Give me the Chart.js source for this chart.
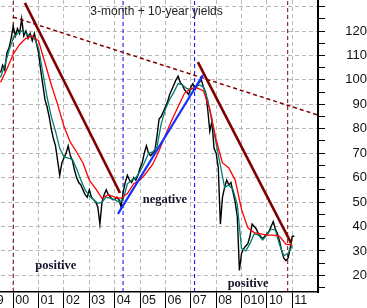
<!DOCTYPE html>
<html lang="en">
<head>
<meta charset="UTF-8">
<title>3-month + 10-year yields</title>
<script src="https://cdn.jsdelivr.net/npm/chart.js"></script>
<style>
    html, body {
        margin: 0;
        padding: 0;
        background: #fff;
        overflow: hidden;
    }
    body {
        width: 367px;
        height: 308px;
        position: relative;
    }
    /* canvas is a bit wider than the window so the cut "99" label shows on the left */
    .chart-box {
        position: absolute;
        left: -20px;
        top: 0;
        width: 387px;
        height: 308px;
    }
</style>
</head>
<body>
<div class="chart-box"><canvas id="yieldChart"></canvas></div>

<script>
    // ---- data ----
    const years = [1999, 2000, 2001, 2002, 2003, 2004, 2005, 2006, 2007, 2008, 2009, 2010, 2011];
    const yearLabels = ['99', '00', '01', '02', '03', '04', '05', '06', '07', '08', '010', '10', '11'];
    const yTicks = [15, 20, 25, 30, 35, 40, 45, 50, 55, 60, 65, 70, 75, 80, 85, 90, 95, 100, 105, 110, 115, 120, 125, 130];

    // monthly values from mid 1999
    const seriesStart = 1999.5;
    const closeStep = 1 / 12;
    const closes = [
        103, 106, 104, 111, 113, 117, 122, 118, 121, 119,
        125, 118, 120, 117, 119, 116, 119, 115, 111, 104,
        98, 92, 89, 85, 80, 76, 73, 67, 61, 66,
        68, 70, 73, 69, 67, 63, 60, 58, 57, 55,
        53, 52, 55, 52, 51, 50, 48, 41, 50, 53,
        55, 53, 52, 51, 51, 52, 51, 48, 54, 58,
        61, 59, 58, 60, 59, 61, 64, 66, 70, 73,
        70, 69, 70, 71, 77, 84, 85, 87, 89, 91,
        94, 96, 98, 100, 101.5, 99, 98, 96, 95, 94,
        97, 98.5, 96, 98, 99, 100, 97, 95, 88, 79,
        83, 72, 70, 64, 41, 52, 56, 59, 57, 58,
        54, 50, 44, 22, 29, 31, 32, 33, 36, 41,
        40, 39, 37, 36, 35, 36, 37, 38, 40, 42,
        39, 37, 34, 30, 27, 26, 27, 31, 36, 36
    ];

    // short average, every 2 months
    const fastStep = 2 / 12;
    const fastAvg = [
        101, 106, 112, 117, 119, 120, 119, 118, 117, 113,
        103, 93, 85, 79, 72, 68.5, 68, 67.5, 63.5, 59,
        55, 52.5, 51, 49.5, 50, 52, 51.5, 51, 50, 51,
        57.5, 59, 60, 62.5, 66, 70, 70.5, 72.5, 82, 88,
        92, 95, 98.5, 98, 96.5, 96, 96.7, 98, 97, 92,
        83, 74, 65, 56, 57, 55, 49, 31, 30, 33,
        37, 36.5, 34.5, 36.5, 39, 38.5, 32.5, 28, 29, 32
    ];

    // long average, every 3 months
    const slowStep = 3 / 12;
    const slowAvg = [
        99, 104.5, 110.5, 114.5, 117, 118, 116, 107, 98, 90,
        81, 74.5, 70.5, 66, 59, 55.5, 51.5, 53, 52, 51.5,
        53.5, 57.5, 59, 62, 65.5, 71, 77.5, 83.5, 89, 94.5,
        96.5, 96.7, 95.5, 88, 75.5, 66, 64, 59, 47, 39.5,
        37.5, 37, 36.5, 36.5, 36, 32.8, 32.5
    ];

    // trend lines: [year, value]
    const fallLine1 = [[2000.46, 131.5], [2004.21, 53.7]];
    const riseLine = [[2004.13, 45.2], [2007.48, 102]];
    const fallLine2 = [[2007.28, 107.3], [2010.95, 33.3]];
    const longLine = [[2000.0, 125.7], [2012.02, 85.6]];

    const redMarks = [2000.0, 2010.82];
    const blueMarks = [2004.33, 2007.15];

    const titleText = '3-month + 10-year yields';
    const titlePos = [2005.65, 126.5];
    const notes = [
        ['positive', 2001.68, 22.7],
        ['negative', 2005.98, 49.7],
        ['positive', 2009.26, 15.3]
    ];

    const xMin = 1998.69, xMax = 2012.015;
    const yMin = 13.2, yMax = 132.7;

    // ---- helpers ----
    function stepped(values, step) {
        return values.map((v, i) => ({ x: seriesStart + i * step, y: v }));
    }
    function pairs(list) {
        return list.map(p => ({ x: p[0], y: p[1] }));
    }
    function vline(x) {
        return [{ x: x, y: yMin }, { x: x, y: yMax }];
    }

    const plain = { pointRadius: 0, tension: 0, fill: false };

    const datasets = [];
    redMarks.forEach(m => datasets.push(Object.assign({ data: vline(m), borderColor: '#800000', borderWidth: 1, borderDash: [4, 3], order: 10 }, plain)));
    blueMarks.forEach(m => datasets.push(Object.assign({ data: vline(m), borderColor: '#0000ff', borderWidth: 1, borderDash: [4, 3], order: 10 }, plain)));
    datasets.push(Object.assign({ data: stepped(closes, closeStep), borderColor: '#000000', borderWidth: 1.4, order: 8 }, plain));
    datasets.push(Object.assign({ data: stepped(fastAvg, fastStep), borderColor: '#007f70', borderWidth: 1.3, order: 7 }, plain));
    datasets.push(Object.assign({ data: stepped(slowAvg, slowStep), borderColor: '#ff0000', borderWidth: 1.3, order: 6 }, plain));
    datasets.push(Object.assign({ data: pairs(longLine), borderColor: '#800000', borderWidth: 1.5, borderDash: [4, 3], order: 5 }, plain));
    datasets.push(Object.assign({ data: pairs(fallLine1), borderColor: '#800000', borderWidth: 2.6, order: 4 }, plain));
    datasets.push(Object.assign({ data: pairs(fallLine2), borderColor: '#800000', borderWidth: 2.6, order: 4 }, plain));
    datasets.push(Object.assign({ data: pairs(riseLine), borderColor: '#1530ff', borderWidth: 2.2, order: 3 }, plain));

    // title and the three notes, placed on the scales
    const textPlugin = {
        id: 'chartText',
        afterDatasetsDraw(chart) {
            const { ctx, scales: { x, y } } = chart;
            ctx.save();
            ctx.textAlign = 'center';
            ctx.textBaseline = 'alphabetic';
            ctx.fillStyle = '#222';
            ctx.font = '12px "Liberation Sans", Arial, sans-serif';
            ctx.fillText(titleText, x.getPixelForValue(titlePos[0]), y.getPixelForValue(titlePos[1]));
            ctx.fillStyle = '#14142a';
            ctx.font = 'bold 12.5px "Liberation Serif", "Times New Roman", serif';
            notes.forEach(n => ctx.fillText(n[0], x.getPixelForValue(n[1]), y.getPixelForValue(n[2])));
            ctx.restore();
        }
    };

    Chart.defaults.font.family = '"Liberation Sans", Arial, sans-serif';

    new Chart(document.getElementById('yieldChart'), {
        type: 'line',
        data: { datasets: datasets },
        plugins: [textPlugin],
        options: {
            responsive: true,
            maintainAspectRatio: false,
            animation: false,
            devicePixelRatio: 1,
            events: [],
            layout: { padding: 0 },
            plugins: {
                legend: { display: false },
                tooltip: { enabled: false }
            },
            scales: {
                x: {
                    type: 'linear',
                    min: xMin,
                    max: xMax,
                    afterBuildTicks: s => { s.ticks = years.map(v => ({ value: v })); },
                    afterFit: s => { s.height = 16; s.paddingLeft = 0; s.paddingRight = 0; },
                    grid: { color: '#b8b8b8', tickColor: '#000', tickLength: 16, lineWidth: 1 },
                    border: { color: '#000', width: 1.5, dash: [4, 3] },
                    ticks: {
                        align: 'start',
                        labelOffset: 2,
                        padding: -15,
                        autoSkip: false,
                        maxRotation: 0,
                        color: '#111',
                        font: { size: 12.5 },
                        callback: v => yearLabels[years.indexOf(v)]
                    }
                },
                y: {
                    type: 'linear',
                    position: 'right',
                    min: yMin,
                    max: yMax,
                    afterBuildTicks: s => { s.ticks = yTicks.map(v => ({ value: v })); },
                    afterFit: s => { s.width = 49; s.paddingTop = 0; s.paddingBottom = 0; },
                    grid: {
                        color: c => (c.tick && c.tick.value % 10 === 0) ? '#b8b8b8' : 'rgba(0,0,0,0)',
                        tickColor: '#000',
                        tickLength: 7,
                        lineWidth: 1
                    },
                    border: { color: '#000', width: 2, dash: [4, 3] },
                    ticks: {
                        autoSkip: false,
                        crossAlign: 'far',
                        padding: 15,
                        color: '#111',
                        font: { size: 13 },
                        callback: v => (v % 10 === 0 && v < 130) ? String(v) : ''
                    }
                }
            }
        }
    });
</script>
</body>
</html>
